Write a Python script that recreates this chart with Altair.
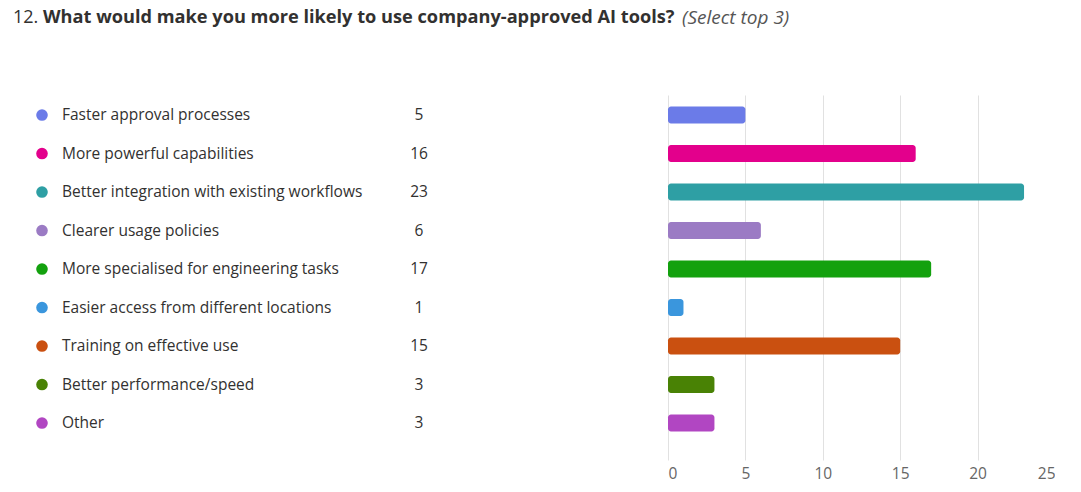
import altair as alt
import pandas as pd

categories = [
    "Faster approval processes",
    "More powerful capabilities",
    "Better integration with existing workflows",
    "Clearer usage policies",
    "More specialised for engineering tasks",
    "Easier access from different locations",
    "Training on effective use",
    "Better performance/speed",
    "Other",
]
counts = [5, 16, 23, 6, 17, 1, 15, 3, 3]
colors = ["#6B7BE8", "#E3008C", "#2E9FA4", "#9B7BC4", "#13A10E",
          "#3A96DD", "#CA5010", "#498205", "#B146C2"]
x_ticks = [0, 5, 10, 15, 20, 25]

title_num = "12."
title_bold = "What would make you more likely to use company-approved AI tools?"
title_note = "(Select top 3)"

FONT = "Open Sans"
TEXT = "#323130"

df = pd.DataFrame({"cat": categories, "count": counts,
                   "idx": list(range(len(categories))), "color": colors})

yscale = alt.Scale(domain=[-0.52, 8.96], reverse=True, nice=False, zero=False)
y_enc = alt.Y("idx:Q", scale=yscale, axis=None)
color_enc = alt.Color("color:N", scale=None)

H = 365

# header with mixed-style title
hdf = pd.DataFrame({"t": [0]})
base_h = alt.Chart(hdf).encode(y=alt.value(8))
h1 = base_h.mark_text(align="left", baseline="middle", font=FONT, fontSize=18,
                      color=TEXT).encode(x=alt.value(5), text=alt.value(title_num))
h2 = base_h.mark_text(align="left", baseline="middle", font=FONT, fontSize=18.2,
                      fontWeight="bold", color=TEXT).encode(x=alt.value(35), text=alt.value(title_bold))
h3 = base_h.mark_text(align="left", baseline="middle", font=FONT, fontSize=19,
                      fontStyle="italic", color="#555555").encode(x=alt.value(674), text=alt.value(title_note))
header = alt.layer(h1, h2, h3).properties(width=1047, height=85)

# left legend table
lbase = alt.Chart(df).encode(y=y_enc)
dots = lbase.mark_point(filled=True, shape="circle", size=135, opacity=1).encode(
    x=alt.value(34), color=color_enc)
labels = lbase.mark_text(align="left", baseline="middle", font=FONT, fontSize=15.5,
                         color=TEXT).encode(x=alt.value(54), text="cat:N")
nums = lbase.mark_text(align="center", baseline="middle", font=FONT, fontSize=15.5,
                       color=TEXT).encode(x=alt.value(411), text="count:Q")
left = alt.layer(dots, labels, nums).properties(width=660, height=H)

# right bar chart
bars = alt.Chart(df).transform_calculate(
    y1="datum.idx - 0.2208", y2="datum.idx + 0.2208", zero="0"
).mark_rect(cornerRadius=3).encode(
    x=alt.X("count:Q", scale=alt.Scale(domain=[0, 25], nice=False),
            axis=alt.Axis(values=x_ticks, title=None, domain=False, ticks=False,
                          grid=True, gridColor="#E1E1E1", labelFont=FONT,
                          labelFontSize=15.5, labelColor="#666666", labelPadding=6)),
    x2=alt.X2("zero:Q"),
    y=alt.Y("y1:Q", scale=yscale, axis=None),
    y2="y2:Q",
    color=color_enc,
)
right = bars.properties(width=387, height=H)

body = alt.hconcat(left, right, spacing=0)
chart = alt.vconcat(header, body, spacing=0).properties(
    padding=0, background="white").configure_view(stroke=None, strokeWidth=0)

chart.save("out.html", embed_options={"renderer": "svg", "actions": False})
